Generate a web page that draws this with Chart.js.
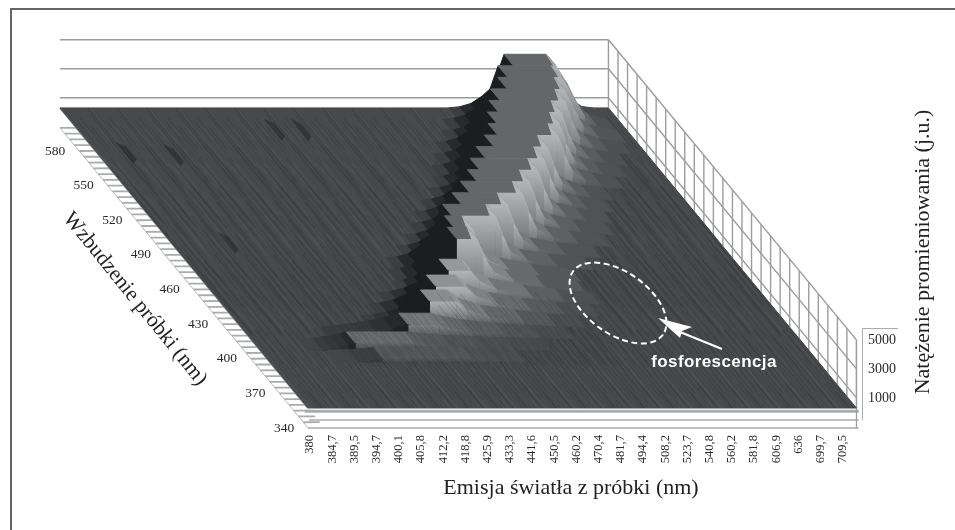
<!DOCTYPE html>
<html><head><meta charset="utf-8">
<style>html,body{margin:0;padding:0;background:#fff}#w{position:relative;width:955px;height:530px}</style>
<script src="https://cdn.jsdelivr.net/npm/chart.js@4/dist/chart.umd.min.js"></script>
</head><body><div id="w"><canvas id="c" width="955" height="530"></canvas></div>
<script>
const emissionLabels=["380","384,7","389,5","394,7","400,1","405,8","412,2","418,8","425,9","433,3","441,6","450,5","460,2","470,4","481,7","494,4","508,2","523,7","540,8","560,2","581,8","606,9","636","699,7","709,5"];
const excitationLabels=[580,550,520,490,460,430,400,370,340];
const intensityTicks=[1000,3000,5000];
// emission position (axis index) and intensity for each excitation row, back (600 nm) to front
const e600x=[17.5,18,18.5,19,19.5,20,21.9,22.4,23,23.5,24];
const e600z=[300,380,600,1100,1800,4000,4000,2800,900,400,300];
const e590x=[16.8,17.3,17.8,18.3,18.8,19.3,21.7,22.2,22.8,23.4,24.2];
const e590z=[300,380,600,1100,1800,4000,4000,2800,1300,600,300];
const e580x=[16.3,16.85,17.35,17.85,18.35,18.85,21.4,21.8,22.3,23,24.2];
const e580z=[300,380,600,1100,1800,4000,4000,2800,1400,700,300];
const e570x=[15.6,16.1,16.6,17.1,17.6,18.1,21,21.3,21.7,22.3,23,24];
const e570z=[300,380,600,1100,1800,4000,4000,2700,1500,900,550,300];
const e560x=[15.1,15.6,16.1,16.6,17.1,17.6,20.4,20.7,21.1,21.7,22.4,23.4];
const e560z=[300,380,600,1100,1800,4000,4000,2700,1500,900,550,300];
const e550x=[14.6,15.1,15.6,16.1,16.6,17.1,19.9,20.2,20.6,21.2,21.9,22.9];
const e550z=[300,380,600,1100,1800,4000,4000,2700,1500,900,550,300];
const e540x=[14.2,14.7,15.2,15.7,16.2,16.7,19.4,19.7,20.1,20.7,21.4,22.4];
const e540z=[300,380,600,1100,1800,4000,4000,2700,1500,900,550,300];
const e530x=[13.6,14.1,14.6,15.1,15.6,16.1,18.5,18.8,19.2,19.8,20.5,21.5];
const e530z=[300,380,600,1100,1800,4000,4000,2700,1500,900,550,300];
const e520x=[12.8,13.3,13.8,14.3,14.8,15.3,17.9,18.2,18.6,19.2,19.9,21];
const e520z=[300,380,600,1100,1800,4000,4000,2700,1500,900,550,300];
const e510x=[12.1,12.6,13.1,13.6,14.1,14.6,17.2,17.5,17.9,18.5,19.4,20.6];
const e510z=[300,380,600,1100,1800,4000,4000,2700,1500,900,550,300];
const e500x=[11.5,12,12.5,13,13.5,14.05,16.4,16.7,17.1,17.8,18.8,20.2];
const e500z=[300,380,600,1100,1800,4000,4000,2700,1500,900,550,300];
const e490x=[10.8,11.3,11.8,12.3,12.8,13.3,15.65,15.95,16.35,17.1,18.2,19.6];
const e490z=[300,380,600,1100,1800,4000,4000,2700,1500,900,550,300];
const e480x=[10,10.5,11,11.5,12,12.5,14.55,14.85,15.3,16,17.2,18.8];
const e480z=[300,380,600,1100,1800,4000,4000,2700,1500,900,550,300];
const e470x=[9.1,9.6,10.1,10.6,11.1,11.64,13.6,13.9,14.3,15.1,16.4,18];
const e470z=[300,380,600,1100,1800,4000,4000,2700,1500,900,550,300];
const e460x=[8.8,9.3,9.8,10.3,10.8,11.3,12.1,12.4,12.9,13.8,15.2,17];
const e460z=[300,380,600,1100,1800,4000,4000,2800,1700,1100,650,300];
const e450x=[8.5,9,9.5,10,10.5,11,11.9,12.2,12.7,13.6,15,16.8];
const e450z=[300,380,600,1100,1800,4000,4000,2800,1700,1100,650,300];
const e440x=[7.5,8,8.6,9.2,9.7,10.2,11.2,11.6,12.4,14,15.5,17];
const e440z=[300,380,600,1000,1500,2600,2600,1900,1300,800,480,300];
const e430x=[6.6,7.1,7.7,8.2,8.7,9.2,10.5,11,12,13.5,15,16.5];
const e430z=[300,380,600,900,1400,2300,2300,1650,1100,700,420,300];
const e420x=[5.8,6.4,7,7.5,8,8.5,9.7,10.2,11.2,12.8,14.2,15.5];
const e420z=[300,380,550,800,1200,2070,2070,1500,1000,650,400,300];
const e410x=[3.6,4.3,5,5.7,6.4,7.1,8.5,9,10,11.5,13,14.5];
const e410z=[300,420,560,720,950,1265,1265,1050,800,560,380,300];
const e400x=[2.2,2.8,3.2,3.6,4,4.3,7,7.5,8.5,10,11.5,13];
const e400z=[300,340,420,520,640,770,770,680,560,450,350,300];
const e390x=[3,4,4.6,5.1,9.1,10,11.5];
const e390z=[300,340,420,500,500,420,300];
const rowsX=[e600x,e590x,e580x,e570x,e560x,e550x,e540x,e530x,e520x,e510x,e500x,e490x,e480x,e470x,e460x,e450x,e440x,e430x,e420x,e410x,e400x,e390x];
const rowsZ=[e600z,e590z,e580z,e570z,e560z,e550z,e540z,e530z,e520z,e510z,e500z,e490z,e480z,e470z,e460z,e450z,e440z,e430z,e420z,e410z,e400z,e390z];
// small dark blotches on the flat floor: emission index, row
const blotchEm=[1.26,3.3,8.8,10,2.5];
const blotchRow=[3.9,4.1,1.9,1.9,11.7];
// texture tables for the fine streaks of the floor
const streakStart=[0.1,7.3,3.2,14.6,1.4,19.2,9.8,5.1,22.3,12.7,0.6,16.4,2.8,10.9,18.1,6.5,24.2,13.3,4.4,20.6,8.2,15.7];
const streakLen=[5,2,7,3,9,3,4,2,6,4,8,3,5,2,3,7,1,5,4,3,6,4];
const streakShade=[0,1,2,1,0,2,1,2,0,1,2,2,0,1,1,2,0,2,1,0,2,1];

const FLOOR=300, EMAX=24.7, ROWS=26;
const P=(em,k,z)=>({x:em-0.09+(k-ROWS)*0.4296,y:z+(ROWS-k)*796});
const mix=(a,b,t)=>{t=Math.max(0,Math.min(1,t));return a.map((v,i)=>Math.round(v+(b[i]-v)*t));};
const css=c=>`rgb(${c[0]},${c[1]},${c[2]})`;
const cFloor=[72,73,75],cBlack=[27,30,33],cPlate=[101,102,104],cShelf=[108,109,112],cLight=[180,181,185];
const ds=[];
const add=(data,o)=>ds.push(Object.assign({data,showLine:true,pointRadius:0,tension:0,clip:false,borderWidth:1,fill:false},o));
const poly=(pts,col,extra)=>add(pts.concat([pts[0]]),Object.assign({fill:'shape',backgroundColor:col,borderColor:typeof col==='string'?col:'rgba(0,0,0,0)',borderWidth:1},extra||{}));
const line=(pts,col,w)=>add(pts,{borderColor:col,borderWidth:w||1.3});
const wall='#9a9c9f';
// back wall
intensityTicks.forEach(z=>line([P(0,0,z),P(EMAX,0,z)],wall,1.7));
// right wall lattice
for(let k=0;k<=ROWS;k++)line([P(EMAX,k,FLOOR),P(EMAX,k,5000)],wall,1.4);
intensityTicks.forEach(z=>line([P(EMAX,0,z),P(EMAX,ROWS,z)],wall,1.4));
// ladder below the left edge of the floor
const Z0=-1079;
for(let k=0;k<=ROWS-0.25;k+=0.5)line([P(0,k,Z0),P(0,k+1.73,FLOOR)],'#a9abad',1.8);
line([P(0,0,Z0),P(0,ROWS,Z0)],'#b5b6b8',1);
line([P(0,0,FLOOR),P(0,ROWS,FLOOR)],'#8d8f91',2);
// front strip
line([P(-0.15,ROWS,FLOOR-220),P(EMAX+0.1,ROWS,FLOOR-220)],'#a9abad',3);
line([P(0.05,ROWS,-525),P(EMAX+0.1,ROWS,-525)],'#a9abad',1.6);
line([P(0,ROWS,Z0),P(EMAX+0.1,ROWS,Z0)],'#a9abad',1.6);
line([P(EMAX,ROWS,5000),P(EMAX,ROWS,Z0)],wall,1.2);
// floor
poly([P(0,0,FLOOR),P(EMAX,0,FLOOR),P(EMAX,ROWS,FLOOR),P(0,ROWS,FLOOR)],css(cFloor));
// floor streaks
const shades=['rgba(98,100,102,.28)','rgba(46,48,50,.4)','rgba(58,59,61,.4)'];
const sd=[[],[],[]];
let n=0;
for(let e=0.04;e<EMAX;e+=0.06){for(let r=0;r<4;r++){
  const a=(streakStart[(n*3+r*7)%22]+r*6.5)%ROWS,l=streakLen[(n*5+r)%22];
  const sh=streakShade[(n+r*5)%22];
  sd[sh].push(P(e,a,FLOOR),P(e,Math.min(ROWS,a+l),FLOOR),{x:NaN,y:NaN});
  }n++;}
sd.forEach((s,i)=>add(s,{borderColor:shades[i],borderWidth:1,spanGaps:false}));
blotchEm.forEach((em,i)=>{[0,0.08,0.16,0.24].forEach((d,j)=>line([P(em+d,blotchRow[i]-0.9+j*0.1,FLOOR),P(em+d,blotchRow[i]+0.9-j*0.1,FLOOR)],'rgba(25,27,30,.5)',1.2));});
// surface: strips and curtains, back to front, left to right
rowsX.forEach((X,k)=>{const Z=rowsZ[k];
  const depth=0.6+0.4*Math.min(1,k/14);
  for(let j=0;j<X.length-1;j++){
    const s=(Z[j+1]-Z[j])/(X[j+1]-X[j]),top=Math.max(Z[j],Z[j+1]);
    let col;
    if(s>0)col=mix(cFloor,cBlack,s/600);
    else if(s===0)col=top>3000?cPlate:(top<800?mix(cFloor,cShelf,(top-300)/500):mix(cShelf,cLight,(top-800)/3000));
    else col=mix(cFloor,cLight,depth*(top-300)/2600);
    poly([P(X[j],k,Z[j]),P(X[j+1],k,Z[j+1]),P(X[j+1],k+1,Z[j+1]),P(X[j],k+1,Z[j])],css(col));
  }
  for(let j=0;j<X.length-1;j++){
    const s=(Z[j+1]-Z[j])/(X[j+1]-X[j]),top=Math.max(Z[j],Z[j+1]);
    const pts=[P(X[j],k+1,Z[j]),P(X[j+1],k+1,Z[j+1]),P(X[j+1],k+1,FLOOR),P(X[j],k+1,FLOOR)];
    if(s>0){poly(pts,css(mix(cFloor,cBlack,s/500)));}
    else{
      const hi=mix(cFloor,cLight,depth*(top-300)/1900),lo=mix(cFloor,cShelf,(top-300)/2500);
      poly(pts,function(c){const ch=c.chart,y=ch.scales.y;
        const a=y?y.getPixelForValue(pts[0].y):NaN,b=y?y.getPixelForValue(pts[3].y):NaN;
        if(!isFinite(a)||!isFinite(b))return css(hi);
        const g=ch.ctx.createLinearGradient(0,a,0,b);
        g.addColorStop(0,css(hi));g.addColorStop(1,css(lo));return g;},{borderWidth:0});
    }
  }
});
// fine hatching over the low front of the ridge
const hatch=[];let h=0;
for(let e=3.5;e<15.5;e+=0.1){const a=16+streakStart[h%22]/4;hatch.push(P(e,a,FLOOR),P(e,Math.min(22.3,a+streakLen[h%22]/2+1),FLOOR),{x:NaN,y:NaN});h++;}
add(hatch,{borderColor:'rgba(40,42,44,.22)',borderWidth:1,spanGaps:false});
ds.reverse();

const serif='"Liberation Serif"';
const decor={id:'decor',afterDatasetsDraw(ch){
  const c=ch.ctx,xs=ch.scales.x,ys=ch.scales.y;
  const px=p=>[xs.getPixelForValue(p.x),ys.getPixelForValue(p.y)];
  c.save();
  // frame
  c.strokeStyle='#666';c.lineWidth=2;c.beginPath();c.moveTo(955,9);c.lineTo(11,9);c.lineTo(11,530);c.stroke();
  // intensity axis box
  c.strokeStyle='#a9abad';c.lineWidth=1;c.beginPath();c.moveTo(898,328.5);c.lineTo(862.5,328.5);c.lineTo(862.5,420);c.stroke();
  // excitation labels
  c.fillStyle='#2a2a2a';c.font='13.5px '+serif;c.textAlign='center';c.textBaseline='middle';
  excitationLabels.forEach(v=>{const [x,y]=px(P(0,(600-v)/10,FLOOR));c.fillText(String(v),x-24,y+20);});
  // titles
  c.fillStyle='#222';c.font='22px '+serif;
  c.fillText('Emisja światła z próbki (nm)',571,488);
  c.save();c.translate(135,299);c.rotate(51*Math.PI/180);c.font='21.5px '+serif;c.fillText('Wzbudzenie próbki (nm)',0,0);c.restore();
  c.save();c.translate(923,252);c.rotate(-Math.PI/2);c.fillText('Natężenie promieniowania (j.u.)',0,0);c.restore();
  // annotation
  c.save();c.translate(618,303);c.rotate(35*Math.PI/180);c.strokeStyle='#fff';c.lineWidth=2;c.setLineDash([6,3.5]);c.beginPath();c.ellipse(0,0,55,31,0,0,Math.PI*2);c.stroke();c.restore();
  c.strokeStyle='#fff';c.fillStyle='#fff';c.lineWidth=2.2;c.beginPath();c.moveTo(722,349);c.lineTo(680,332);c.stroke();
  c.beginPath();c.moveTo(658,318);c.lineTo(692,327);c.lineTo(682,331);c.lineTo(680,338);c.closePath();c.fill();
  c.font='bold 17px "Liberation Sans"';c.letterSpacing='0.4px';c.fillText('fosforescencja',714,362);
  c.restore();
}};
new Chart(document.getElementById('c'),{type:'scatter',data:{datasets:ds},plugins:[decor],options:{
  responsive:false,animation:false,events:[],
  layout:{padding:{left:50,right:33,top:30,bottom:32}},
  plugins:{legend:{display:false},tooltip:{enabled:false},title:{display:false}},
  scales:{
    x:{type:'linear',position:'bottom',min:-11.712,max:24.86,
      afterBuildTicks:s=>{s.ticks=emissionLabels.map((_,i)=>({value:i}));},
      afterFit:s=>{s.height=70;},
      grid:{display:false,drawTicks:false},border:{display:false},
      ticks:{autoSkip:false,maxRotation:90,minRotation:90,padding:7,color:'#2a2a2a',font:{family:serif,size:12.5},callback:v=>emissionLabels[v]}},
    y:{type:'linear',position:'right',min:-1079,max:26369,
      afterBuildTicks:s=>{s.ticks=intensityTicks.map(v=>({value:v}));},
      afterFit:s=>{s.width=60;},
      grid:{display:false,drawTicks:false},border:{display:false},
      ticks:{padding:6,color:'#2a2a2a',font:{family:serif,size:14},callback:v=>String(v)}}
  }}});
</script></body></html>
